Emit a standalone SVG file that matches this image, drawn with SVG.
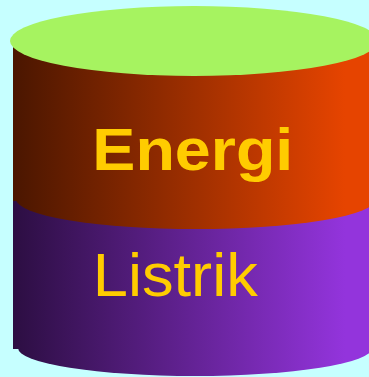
<svg xmlns="http://www.w3.org/2000/svg" width="369" height="377" viewBox="0 0 369 377">
  <defs>
    <linearGradient id="gOrange" gradientUnits="userSpaceOnUse" x1="13" y1="0" x2="345" y2="0">
      <stop offset="0" stop-color="#4A1600"/>
      <stop offset="1" stop-color="#E64400"/>
    </linearGradient>
    <linearGradient id="gPurple" gradientUnits="userSpaceOnUse" x1="13" y1="0" x2="345" y2="0">
      <stop offset="0" stop-color="#2C0E42"/>
      <stop offset="1" stop-color="#9334DC"/>
    </linearGradient>
    <style>
      .lbl { fill: #FFCC00; font-family: "Liberation Sans", Arial, sans-serif; }
    </style>
  </defs>
  <rect x="0" y="0" width="369" height="377" fill="#C6FFFF"/>
  <g id="lower-band" fill="url(#gPurple)">
    <rect x="13" y="195" width="360" height="154"/>
    <ellipse cx="195" cy="348" rx="177" ry="28"/>
  </g>
  <g id="upper-band" fill="url(#gOrange)">
    <rect x="13" y="45" width="360" height="156"/>
    <ellipse cx="196" cy="199" rx="180" ry="30"/>
  </g>
  <g id="top">
    <ellipse cx="194" cy="41" rx="184" ry="35" fill="#A6F360"/>
  </g>
  <g id="labels">
    <text class="lbl" x="92.3" y="170" font-size="59" font-weight="bold" textLength="201" lengthAdjust="spacingAndGlyphs">Energi</text>
    <text class="lbl" x="92.8" y="296" font-size="62" textLength="165" lengthAdjust="spacingAndGlyphs">Listrik</text>
  </g>
</svg>
